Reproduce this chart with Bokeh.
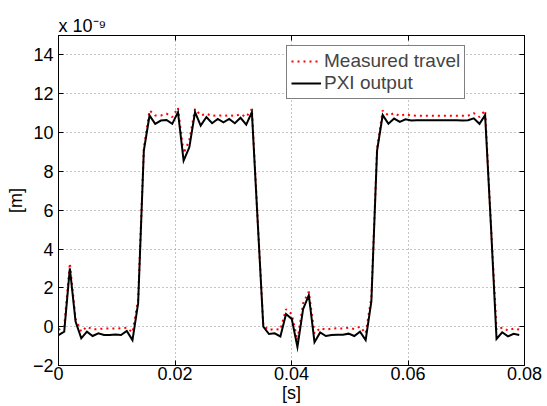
from bokeh.plotting import figure
from bokeh.models import (FixedTicker, NumeralTickFormatter, LinearAxis,
                          Legend, LegendItem, Range1d)
from bokeh.embed import file_html
from bokeh.resources import INLINE

# sample times [s] (1024 Hz sampling)
t = [0.00000, 0.00098, 0.00195, 0.00293, 0.00391, 0.00488, 0.00586, 0.00684,
     0.00781, 0.00879, 0.00977, 0.01074, 0.01172, 0.01270, 0.01367, 0.01465,
     0.01563, 0.01660, 0.01758, 0.01855, 0.01953, 0.02051, 0.02148, 0.02246,
     0.02344, 0.02441, 0.02539, 0.02637, 0.02734, 0.02832, 0.02930, 0.03027,
     0.03125, 0.03223, 0.03320, 0.03418, 0.03516, 0.03613, 0.03711, 0.03809,
     0.03906, 0.04004, 0.04102, 0.04199, 0.04297, 0.04395, 0.04492, 0.04590,
     0.04688, 0.04785, 0.04883, 0.04980, 0.05078, 0.05176, 0.05273, 0.05371,
     0.05469, 0.05566, 0.05664, 0.05762, 0.05859, 0.05957, 0.06055, 0.06152,
     0.06250, 0.06348, 0.06445, 0.06543, 0.06641, 0.06738, 0.06836, 0.06934,
     0.07031, 0.07129, 0.07227, 0.07324, 0.07422, 0.07520, 0.07617, 0.07715,
     0.07813, 0.07910]

# displacement in units of 1e-9 m
measured_travel = [
    -0.17, 0.00, 3.27, 0.40, -0.26, 0.00, -0.14, -0.12, -0.10, -0.10,
    -0.10, -0.08, -0.05, -0.30, 1.40, 9.20, 11.14, 10.88, 10.88, 10.97,
    10.80, 11.28, 8.93, 9.60, 11.22, 10.88, 10.97, 10.85, 10.90, 10.85,
    10.90, 10.85, 10.95, 10.80, 11.22, 5.60, 0.05, -0.17, -0.12, -0.15,
    0.90, 0.65, -0.70, 1.20, 1.80, -0.35, -0.07, -0.15, -0.10, -0.08,
    -0.10, -0.05, -0.12, 0.00, -0.35, 1.50, 9.20, 11.14, 10.88, 11.00,
    10.85, 10.95, 10.88, 10.87, 10.87, 10.87, 10.87, 10.87, 10.87, 10.87,
    10.87, 10.87, 10.87, 11.00, 10.80, 11.14, 5.40, -0.17, -0.05, -0.20,
    -0.10, -0.15]

pxi_output = [
    -0.43, -0.26, 3.00, 0.26, -0.60, -0.26, -0.48, -0.34, -0.43, -0.43,
    -0.40, -0.43, -0.22, -0.69, 1.20, 9.07, 10.88, 10.45, 10.62, 10.65,
    10.45, 11.05, 8.55, 9.24, 11.05, 10.36, 10.80, 10.48, 10.70, 10.53,
    10.70, 10.48, 10.76, 10.41, 11.05, 5.50, 0.00, -0.38, -0.34, -0.50,
    0.65, 0.40, -1.05, 0.90, 1.62, -0.80, -0.30, -0.48, -0.43, -0.42,
    -0.42, -0.36, -0.48, -0.26, -0.69, 1.30, 9.07, 10.90, 10.45, 10.72,
    10.55, 10.68, 10.62, 10.64, 10.64, 10.64, 10.64, 10.63, 10.64, 10.64,
    10.63, 10.62, 10.64, 10.73, 10.45, 10.90, 5.30, -0.63, -0.29, -0.50,
    -0.37, -0.43]

x_ticks = [0, 0.02, 0.04, 0.06, 0.08]
y_ticks = [-2, 0, 2, 4, 6, 8, 10, 12, 14]

FONT = "Liberation Sans"

p = figure(width=547, height=406, output_backend="svg", toolbar_location=None,
           x_range=Range1d(0, 0.08), y_range=Range1d(-2, 15),
           min_border_left=58, min_border_right=23, min_border_top=35,
           min_border_bottom=41, background_fill_color="white",
           border_fill_color="white", title="x 10\u207b\u2079")
p.outline_line_color = "black"
p.outline_line_width = 1

p.title.text_font = FONT
p.title.text_font_size = "18px"
p.title.text_font_style = "normal"
p.title.text_color = "black"
p.title.align = "left"
p.title.standoff = 0
p.title.offset = 0

xt = FixedTicker(ticks=x_ticks)
yt = FixedTicker(ticks=y_ticks)

for ax in (p.xaxis[0], p.yaxis[0]):
    ax.major_tick_in = 5
    ax.major_tick_out = 0
    ax.minor_tick_in = 0
    ax.minor_tick_out = 0
    ax.axis_line_color = "black"
    ax.major_tick_line_color = "black"
    ax.major_label_text_font = FONT
    ax.major_label_text_font_size = "18px"
    ax.major_label_text_color = "black"
    ax.axis_label_text_font = FONT
    ax.axis_label_text_font_size = "18px"
    ax.axis_label_text_font_style = "normal"
    ax.axis_label_text_color = "black"
p.xaxis[0].ticker = xt
p.yaxis[0].ticker = yt
p.xaxis[0].formatter = NumeralTickFormatter(format="0.[00]")
p.xaxis[0].major_label_standoff = 1
p.yaxis[0].major_label_standoff = 5
p.xaxis[0].axis_label = "[s]"
p.yaxis[0].axis_label = "[m]"
p.xaxis[0].axis_label_standoff = 0
p.yaxis[0].axis_label_standoff = 4

for ticker, side in ((yt, "right"), (xt, "above")):
    ax = LinearAxis(ticker=ticker, major_tick_in=5, major_tick_out=0,
                    minor_tick_in=0, minor_tick_out=0,
                    major_label_text_color=None,
                    major_label_text_font_size="1px", major_label_standoff=0,
                    axis_line_color="black", major_tick_line_color="black")
    p.add_layout(ax, side)

p.xgrid.ticker = xt
p.ygrid.ticker = yt
p.grid.grid_line_color = "#8a8a8a"
p.grid.grid_line_dash = "1 3"
p.grid.grid_line_width = 1

r_meas = p.line(t, measured_travel, line_color="#ff0000", line_width=2,
                line_dash="2 4")
r_pxi = p.line(t, pxi_output, line_color="black", line_width=2,
               line_join="miter")

legend = Legend(items=[LegendItem(label="Measured travel", renderers=[r_meas]),
                       LegendItem(label="PXI output", renderers=[r_pxi])],
                location=(228, 266), border_line_color="black",
                border_line_width=1, background_fill_color="white",
                background_fill_alpha=1, label_text_font=FONT,
                label_text_font_size="19px", glyph_width=30, glyph_height=22,
                label_height=22, label_standoff=3, padding=4, spacing=0,
                margin=0)
p.add_layout(legend)

open("out.html", "w").write(file_html(p, INLINE))
